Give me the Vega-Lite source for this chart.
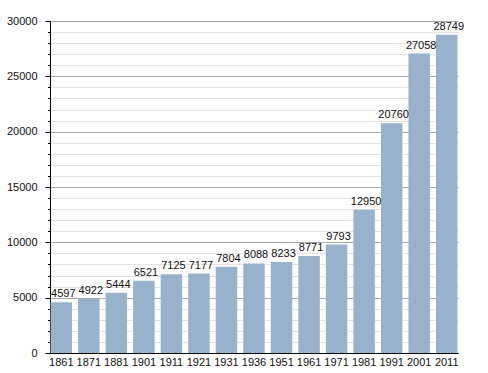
{
  "$schema": "https://vega.github.io/schema/vega-lite/v6.json",
  "width": 408,
  "height": 332,
  "autosize": {"type": "none"},
  "padding": {"left": 50, "top": 21, "right": 30, "bottom": 20},
  "background": "white",
  "config": {
    "view": {"stroke": null},
    "font": "Liberation Sans",
    "axis": {"labelFont": "Liberation Sans", "labelColor": "#111", "labelFontSize": 11}
  },
  "data": {
    "values": [
      {"year": "1861", "pop": 4597},
      {"year": "1871", "pop": 4922},
      {"year": "1881", "pop": 5444},
      {"year": "1901", "pop": 6521},
      {"year": "1911", "pop": 7125},
      {"year": "1921", "pop": 7177},
      {"year": "1931", "pop": 7804},
      {"year": "1936", "pop": 8088},
      {"year": "1951", "pop": 8233},
      {"year": "1961", "pop": 8771},
      {"year": "1971", "pop": 9793},
      {"year": "1981", "pop": 12950},
      {"year": "1991", "pop": 20760},
      {"year": "2001", "pop": 27058},
      {"year": "2011", "pop": 28749}
    ]
  },
  "encoding": {
    "x": {
      "field": "year",
      "type": "ordinal",
      "sort": null,
      "scale": {"paddingInner": 0.22, "paddingOuter": 0.02},
      "axis": {"title": null, "labelAngle": 0, "ticks": false, "domainColor": "#000", "labelPadding": 3}
    }
  },
  "layer": [
    {
      "mark": {"type": "bar", "color": "#99b2cc"},
      "encoding": {
        "y": {
          "field": "pop",
          "type": "quantitative",
          "scale": {"domain": [0, 30000], "nice": false},
          "axis": {
            "title": null,
            "values": [0,1000,2000,3000,4000,5000,6000,7000,8000,9000,10000,11000,12000,13000,14000,15000,16000,17000,18000,19000,20000,21000,22000,23000,24000,25000,26000,27000,28000,29000,30000],
            "labels": false,
            "domain": false,
            "tickSize": 2.5,
            "tickColor": "#000",
            "grid": true,
            "gridColor": "#e2e2e2",
            "orient": "left"
          }
        }
      }
    },
    {
      "mark": {"type": "text", "baseline": "bottom", "dy": -3, "dx": 2, "fontSize": 11, "color": "#111", "font": "Liberation Sans"},
      "encoding": {
        "y": {
          "field": "pop",
          "type": "quantitative",
          "axis": {
            "title": null,
            "values": [0,5000,10000,15000,20000,25000,30000],
            "format": "d",
            "tickSize": 5,
            "tickColor": "#000",
            "domainColor": "#000",
            "grid": true,
            "gridColor": "#aaaaaa",
            "labelPadding": 8,
            "orient": "left"
          }
        },
        "text": {"field": "pop", "type": "quantitative", "format": "d"}
      }
    }
  ],
  "resolve": {"axis": {"y": "independent"}}
}
